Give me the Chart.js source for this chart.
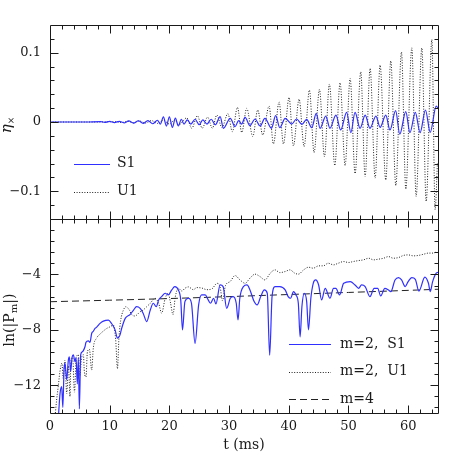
<!DOCTYPE html>
<html>
<head>
<meta charset="utf-8">
<script src="https://cdn.jsdelivr.net/npm/chart.js@4.4.0/dist/chart.umd.min.js"></script>
<style>
html, body { margin: 0; padding: 0; background: #fff; }
#wrap { position: relative; width: 463px; height: 463px; }
#wrap canvas { position: absolute; left: 0; top: 0; }
</style>
</head>
<body>
<div id="wrap">
<canvas id="top" width="463" height="463"></canvas>
<canvas id="bottom" width="463" height="463"></canvas>
</div>
<script>
const T_MIN = 0, T_MAX = 65;
const T_LABELS = [0, 10, 20, 30, 40, 50, 60];

// upper panel: eta_x against t (ms)
const ETA_LABELS = [-0.1, 0, 0.1];
const tS1top = [0, 6, 8.5, 9.2, 10.0, 10.8, 11.6, 12.4, 13.2, 14.0,
  14.8, 15.6, 16.4, 17.2, 18.0, 18.5, 19.0, 19.5, 20.0, 20.5,
  21.0, 21.5, 22.0, 22.45, 23.0, 23.6, 24.3, 25.0, 25.6, 26.3,
  27.0, 27.7, 28.5, 29.05, 30.2, 31.0, 31.6, 32.1, 32.68, 33.5,
  34.35, 35.2, 36.0, 37.1, 37.8, 38.5, 39.4, 40.5, 41.3, 42.2,
  43.0, 43.85, 44.6, 45.25, 46.2, 46.9, 47.9, 48.7, 49.7, 50.4,
  51.1, 51.95, 52.8, 53.6, 54.6, 55.3, 56.25, 56.96, 57.9, 58.6,
  59.6, 60.3, 61.2, 62.0, 62.9, 63.7, 64.7, 65];
const etaS1 = [0, 0, 0.0006, -0.0006, 0.0008, -0.0008, 0.001, -0.0012, 0.0015, -0.0015,
  0.0018, -0.002, 0.002, -0.0025, 0.0025, -0.003, 0.0075, -0.006, 0.0075, -0.0077,
  0.0055, -0.0058, 0.004, -0.003, 0.003, -0.003, 0.004, -0.004, 0.003, -0.003,
  0.004, -0.004, 0.0077, -0.0091, 0.0053, -0.0067, 0.002, -0.003, 0.0067, -0.0053,
  0.0043, -0.0058, 0.0053, -0.0091, 0.0091, -0.0082, 0.0053, -0.0029, 0.0043, -0.0034,
  0.0038, -0.0082, 0.0125, -0.0091, 0.0086, -0.0091, 0.010, -0.0115, 0.0139, -0.0153,
  0.0139, -0.0091, 0.010, -0.0091, 0.0086, -0.0077, 0.010, -0.0115, 0.0163, -0.0177,
  0.0149, -0.0153, 0.0139, -0.0153, 0.0173, -0.0149, 0.023, 0.02];
const tU1top = [0, 8, 11, 12, 13, 14, 15, 16, 17, 18,
  19, 20, 20.9, 21.6, 22.9, 23.75, 24.7, 25.5, 26.4, 27.2,
  27.95, 28.8, 29.8, 30.55, 31.4, 32.12, 32.96, 33.97, 34.8, 35.64,
  36.7, 37.43, 38.38, 39.1, 40.05, 40.78, 41.73, 42.57, 43.46, 44.24,
  45.14, 45.98, 46.81, 47.71, 48.6, 49.44, 50.28, 51.11, 52.06, 52.79,
  53.63, 54.47, 55.3, 56.25, 57.09, 57.93, 58.88, 59.61, 60.61, 61.34,
  62.29, 63.02, 63.97, 64.52, 64.9];
const etaU1 = [0, 0, 0.0005, -0.0008, 0.001, -0.0012, 0.0015, -0.0015, 0.002, -0.002,
  0.0025, -0.003, 0.003, -0.004, 0.006, -0.009, 0.009, -0.009, 0.007, -0.009,
  0.010, -0.008, 0.012, -0.014, 0.021, -0.015, 0.0197, -0.021, 0.0173, -0.0187,
  0.023, -0.0317, 0.029, -0.0317, 0.0355, -0.0345, 0.033, -0.0355, 0.046, -0.0441,
  0.047, -0.0499, 0.0547, -0.0628, 0.0566, -0.0628, 0.0628, -0.0743, 0.0724, -0.0787,
  0.0772, -0.081, 0.082, -0.0835, 0.0882, -0.0916, 0.101, -0.0969, 0.107, -0.1074,
  0.107, -0.1146, 0.119, -0.1266, -0.06];

// lower panel: ln(|P_m|) against t (ms)
const LNP_LABELS = [-12, -8, -4];
const tS1bot = [1.45, 1.68, 1.96, 2.15, 2.35, 2.51, 2.79, 3.07, 3.24, 3.46,
  3.69, 3.91, 4.19, 4.36, 4.58, 4.75, 4.92, 5.14, 5.36, 5.59,
  5.87, 6.03, 6.42, 6.7, 6.98, 7.26, 7.54, 7.82, 8.38, 8.94,
  9.78, 10.3, 10.9, 11.3, 11.7, 12.0, 12.6, 13.4, 14.0, 14.5,
  15.1, 15.6, 16.2, 16.8, 17.3, 17.8, 18.2, 18.7, 19.3, 19.8,
  20.4, 20.9, 21.5, 21.9, 22.2, 22.6, 23.2, 23.7, 24.3, 24.9,
  25.4, 26.0, 26.5, 26.9, 27.4, 27.8, 28.5, 29.0, 29.6, 30.2,
  30.7, 31.2, 31.5, 31.8, 32.4, 33.0, 33.5, 34.2, 34.7, 35.3,
  35.9, 36.4, 36.8, 37.2, 37.7, 38.5, 39.4, 39.9, 40.3, 40.8,
  41.2, 41.6, 41.9, 42.2, 42.6, 43.0, 43.3, 43.7, 44.1, 44.5,
  45.0, 45.5, 46.1, 46.9, 47.5, 47.9, 48.5, 49.2, 50.3, 51.1,
  51.7, 52.2, 52.8, 53.6, 54.3, 54.9, 55.4, 56.1, 56.7, 57.1,
  57.8, 58.4, 58.9, 59.5, 60.0, 60.6, 61.2, 61.8, 62.8, 63.4,
  63.7, 64.1, 64.7, 65];
const lnpS1 = [-14, -12.6, -12.1, -13.6, -10.9, -10.4, -11.6, -10.2, -9.95, -11.0,
  -10.0, -9.8, -10.3, -10.0, -11.9, -10.0, -13.7, -9.8, -9.6, -9.5,
  -9.2, -8.9, -8.8, -8.9, -8.26, -8.1, -7.9, -7.8, -7.53, -7.37,
  -7.3, -7.53, -8.0, -8.6, -8.4, -7.9, -7.17, -6.9, -6.57, -6.33,
  -6.45, -6.8, -7.4, -6.57, -6.08, -6.33, -5.84, -5.6, -5.36, -5.48,
  -5.12, -4.88, -5.12, -5.84, -8.0, -5.96, -5.72, -6.08, -8.98, -6.2,
  -5.48, -5.48, -5.84, -6.08, -5.72, -6.13, -4.76, -4.88, -6.45, -5.72,
  -5.6, -6.08, -7.29, -5.72, -4.88, -4.76, -5.12, -5.96, -6.2, -5.6,
  -5.12, -5.36, -9.83, -5.6, -4.88, -4.88, -5.12, -5.6, -5.72, -5.24,
  -5.48, -6.08, -8.5, -6.33, -5.36, -5.96, -8.0, -5.72, -4.64, -4.4,
  -4.76, -5.84, -5.0, -5.72, -5.0, -5.0, -5.48, -4.64, -4.52, -4.76,
  -5.0, -4.76, -4.88, -5.6, -5.0, -5.0, -5.55, -5.0, -5.12, -5.24,
  -4.4, -4.23, -4.4, -4.88, -4.52, -4.23, -4.35, -5.2, -4.2, -4.64,
  -5.24, -4.52, -3.91, -3.85];
const tU1bot = [0.9, 1.1, 1.4, 1.7, 2.0, 2.2, 2.5, 2.8, 3.1, 3.35,
  3.5, 3.8, 4.1, 4.4, 4.75, 5.0, 5.3, 5.6, 5.75, 6.03,
  6.26, 6.6, 6.98, 7.26, 7.8, 8.4, 8.9, 9.5, 10.1, 10.6,
  11.0, 11.3, 11.56, 11.85, 12.3, 12.7, 13.3, 13.7, 14.2, 15.1,
  15.6, 16.2, 16.8, 17.6, 18.2, 18.7, 19.3, 19.8, 20.2, 20.6,
  21.0, 21.5, 22.1, 22.6, 23.2, 24.0, 24.6, 25.4, 26.3, 27.1,
  28.0, 28.5, 28.9, 29.4, 30.17, 31.0, 31.84, 32.68, 33.5, 34.35,
  35.2, 36.0, 36.9, 37.7, 38.5, 39.4, 40.2, 41.0, 41.6, 42.5,
  43.3, 44.1, 45.0, 45.8, 46.6, 47.5, 48.3, 49.2, 50.0, 50.8,
  51.7, 52.5, 53.4, 54.2, 55.0, 55.9, 56.7, 57.5, 58.4, 59.2,
  60.0, 60.9, 61.7, 62.6, 63.4, 64.2, 64.8];
const lnpU1 = [-14, -13.1, -12.0, -10.9, -10.4, -11.5, -10.2, -12.6, -10.6, -12.8,
  -10.2, -10.0, -12.5, -10.0, -9.8, -11.3, -10.0, -9.8, -11.0, -11.4,
  -9.6, -9.4, -10.9, -9.3, -8.6, -8.3, -8.1, -7.9, -7.77, -7.65,
  -8.7, -10.8, -8.5, -7.3, -6.57, -6.33, -6.57, -6.9, -7.0, -6.7,
  -6.57, -6.33, -6.08, -5.72, -6.08, -6.8, -5.72, -5.36, -6.08, -6.9,
  -5.6, -5.0, -5.2, -5.0, -4.9, -5.1, -4.95, -4.98, -5.1, -5.05,
  -4.64, -4.9, -5.9, -4.8, -4.52, -4.08, -4.40, -4.64, -4.27, -3.98,
  -4.16, -4.40, -3.91, -3.67, -3.87, -3.79, -3.67, -3.91, -3.98, -3.67,
  -3.48, -3.55, -3.38, -3.38, -3.19, -3.31, -3.19, -3.07, -3.14, -3.07,
  -3.0, -2.95, -2.83, -2.95, -2.90, -2.83, -2.71, -2.83, -2.78, -2.63,
  -2.59, -2.66, -2.63, -2.54, -2.46, -2.46, -2.35];
const tM4 = [0, 10, 20, 30, 40, 50, 60, 65];
const lnpM4 = [-5.97, -5.86, -5.74, -5.6, -5.45, -5.3, -5.15, -5.07];

const BLUE = "#2f2fff";
const INK = "#1a1a1a";
const SERIF = "'DejaVu Serif', serif";

function pts(xs, ys) {
  return xs.map((x, i) => ({x: x, y: ys[i]}));
}

function minus(s) {
  return String(s).replace("-", "\u2212");
}

// draws a run of text pieces (for subscripts), centred on (cx, cy), optionally turned upright
function richText(ctx, parts, cx, cy, upright) {
  ctx.save();
  ctx.translate(cx, cy);
  if (upright) ctx.rotate(-Math.PI / 2);
  ctx.textBaseline = "alphabetic";
  ctx.textAlign = "left";
  let w = 0;
  parts.forEach(p => { ctx.font = p.font; p.w = ctx.measureText(p.text).width; w += p.w; });
  let x = -w / 2;
  parts.forEach(p => {
    ctx.font = p.font;
    ctx.fillText(p.text, x, p.dy || 0);
    x += p.w;
  });
  ctx.restore();
}

// frame with inward ticks on all four sides, tick labels, titles and legend
const frame = {
  id: "frame",
  afterDraw(chart, args, o) {
    const ctx = chart.ctx, a = chart.chartArea;
    const sx = chart.scales.x, sy = chart.scales.y;
    const px = v => Math.round(v) + 0.5;
    const L = px(a.left), R = px(a.right), T = px(a.top), B = px(a.bottom);
    ctx.save();
    ctx.strokeStyle = INK;
    ctx.lineWidth = 1;
    ctx.beginPath();
    ctx.rect(L, T, R - L, B - T);
    for (let k = 1; k * 2 < T_MAX; k++) {
      const x = px(sx.getPixelForValue(k * 2));
      const len = k % 5 === 0 ? 8 : 4;
      ctx.moveTo(x, B); ctx.lineTo(x, B - len);
      ctx.moveTo(x, T); ctx.lineTo(x, T + len);
    }
    o.yTicks.forEach(t => {
      const y = px(sy.getPixelForValue(t.v));
      const len = t.major ? 8 : 4;
      ctx.moveTo(L, y); ctx.lineTo(L + len, y);
      ctx.moveTo(R, y); ctx.lineTo(R - len, y);
    });
    ctx.stroke();

    ctx.fillStyle = INK;
    ctx.font = "13px " + SERIF;
    ctx.textAlign = "right";
    ctx.textBaseline = "middle";
    o.yLabels.forEach(v => {
      ctx.fillText(minus(o.fmt(v)), a.left - 9, sy.getPixelForValue(v));
    });
    if (o.xLabels) {
      ctx.textAlign = "center";
      o.xLabels.forEach(v => {
        ctx.fillText(String(v), sx.getPixelForValue(v), a.bottom + 14);
      });
      ctx.font = "14px " + SERIF;
      ctx.textBaseline = "alphabetic";
      ctx.fillText("t (ms)", 244, 449);
    }
    richText(ctx, o.yTitle, o.yTitleAt[0], o.yTitleAt[1], true);

    // legend built from the datasets themselves
    const lg = o.legend;
    chart.data.datasets.forEach((ds, i) => {
      const y = lg.y + i * lg.dy;
      ctx.save();
      ctx.strokeStyle = ds.borderColor;
      ctx.lineWidth = ds.borderWidth;
      ctx.setLineDash(ds.borderDash || []);
      ctx.beginPath();
      ctx.moveTo(lg.x0, Math.round(y) + 0.5);
      ctx.lineTo(lg.x1, Math.round(y) + 0.5);
      ctx.stroke();
      ctx.restore();
      ctx.font = "14px " + SERIF;
      ctx.textAlign = "left";
      ctx.textBaseline = "middle";
      ctx.fillText(ds.label, lg.text, y);
    });
    ctx.restore();
  }
};

function line(label, data, color, dash, width) {
  return {
    label: label,
    data: data,
    borderColor: color,
    borderWidth: width,
    borderDash: dash,
    pointRadius: 0,
    fill: false,
    cubicInterpolationMode: "monotone"
  };
}

function makeChart(id, datasets, yMin, yMax, padding, frameOpts) {
  return new Chart(document.getElementById(id).getContext("2d"), {
    type: "line",
    data: {datasets: datasets},
    options: {
      responsive: false,
      devicePixelRatio: 1,
      animation: false,
      events: [],
      layout: {padding: padding},
      scales: {
        x: {type: "linear", min: T_MIN, max: T_MAX, display: false},
        y: {type: "linear", min: yMin, max: yMax, display: false}
      },
      plugins: {
        legend: {display: false},
        tooltip: {enabled: false},
        frame: frameOpts
      }
    },
    plugins: [frame]
  });
}

let topTicks = [];
for (let k = -6; k <= 6; k++) topTicks.push({v: k * 0.02, major: k % 5 === 0});
let botTicks = [];
for (let k = 1; k <= 17; k++) botTicks.push({v: -k * 0.8, major: k % 5 === 0});

makeChart("top", [
  line("S1", pts(tS1top, etaS1), BLUE, [], 1.2),
  line("U1", pts(tU1top, etaU1), "#222", [1, 1.6], 1)
], -0.14, 0.14, {left: 50, top: 25, right: 25, bottom: 244}, {
  yTicks: topTicks,
  yLabels: ETA_LABELS,
  fmt: v => v === 0 ? "0" : v.toFixed(1),
  yTitle: [
    {text: "\u03b7", font: "italic 15px " + SERIF},
    {text: "\u00d7", font: "9px " + SERIF, dy: 3}
  ],
  yTitleAt: [11, 125],
  legend: {x0: 74, x1: 110, text: 117, y: 163.5, dy: 28}
});

makeChart("bottom", [
  line("m=2,  S1", pts(tS1bot, lnpS1), BLUE, [], 1.2),
  line("m=2,  U1", pts(tU1bot, lnpU1), "#222", [1, 1.6], 1),
  line("m=4", pts(tM4, lnpM4), "#222", [7, 4], 1)
], -14, 0, {left: 50, top: 219, right: 25, bottom: 50}, {
  yTicks: botTicks,
  yLabels: LNP_LABELS,
  fmt: v => String(v),
  xLabels: T_LABELS,
  yTitle: [
    {text: "ln(|P", font: "14px " + SERIF},
    {text: "m", font: "10px " + SERIF, dy: 3},
    {text: "|)", font: "14px " + SERIF}
  ],
  yTitleAt: [14, 320],
  legend: {x0: 289, x1: 331, text: 340, y: 344, dy: 27.7}
});
</script>
</body>
</html>
